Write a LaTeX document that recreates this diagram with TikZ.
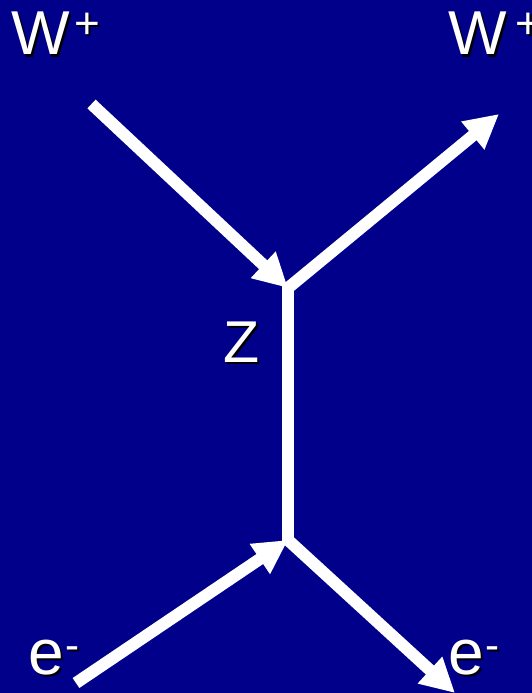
\documentclass[tikz,border=0pt]{standalone}
\usepackage{fontspec}
\setmainfont{Liberation Sans}
\usetikzlibrary{arrows.meta}
\definecolor{bgnavy}{RGB}{0,0,139}
\tikzset{
  particle/.style={draw=white, line width=12pt},
  arrowline/.style={particle, -{Triangle[length=34pt,width=34pt]}},
  lbltext/.style={inner sep=0pt, outer sep=0pt, anchor=base west},
}
\newcommand\shlabel[5]{%
  \node[lbltext, text=black, xshift=2pt, yshift=-2pt] (#1s) at (#2,#3) {\fontsize{#4}{#4}\selectfont #5};
  \node[lbltext, text=white] (#1) at (#2,#3) {\fontsize{#4}{#4}\selectfont #5};}
\begin{document}
\begin{tikzpicture}[x=1pt,y=-1pt]
\fill[bgnavy] (0,0) rectangle (532,693);
\useasboundingbox (0,0) rectangle (532,693);
% vertices and free ends
\coordinate (v1) at (288,288);
\coordinate (v2) at (288,540);
\coordinate (winS) at (91.5,104);
\coordinate (woutE) at (499,114);
\coordinate (einS) at (76,683);
\coordinate (eoutE) at (455,693);
% propagator
\draw[particle] ([yshift=3pt]v1) -- ([yshift=-3pt]v2);
% external lines
\draw[arrowline] (winS) -- (v1);
\draw[arrowline] (v1) -- (woutE);
\draw[arrowline] (einS) -- (v2);
\draw[arrowline] (v2) -- (eoutE);
% labels
\shlabel{wl}{11}{55}{62}{W}
\shlabel{wlp}{74}{39}{44}{+}
\shlabel{wr}{448}{55}{62}{W}
\shlabel{wrp}{515}{39}{44}{+}
\shlabel{z}{223}{362}{59}{Z}
\shlabel{el}{28}{674}{64}{e}
\shlabel{elm}{65}{659}{42}{-}
\shlabel{er}{448}{674}{64}{e}
\shlabel{erm}{485}{659}{42}{-}
\end{tikzpicture}
\end{document}
